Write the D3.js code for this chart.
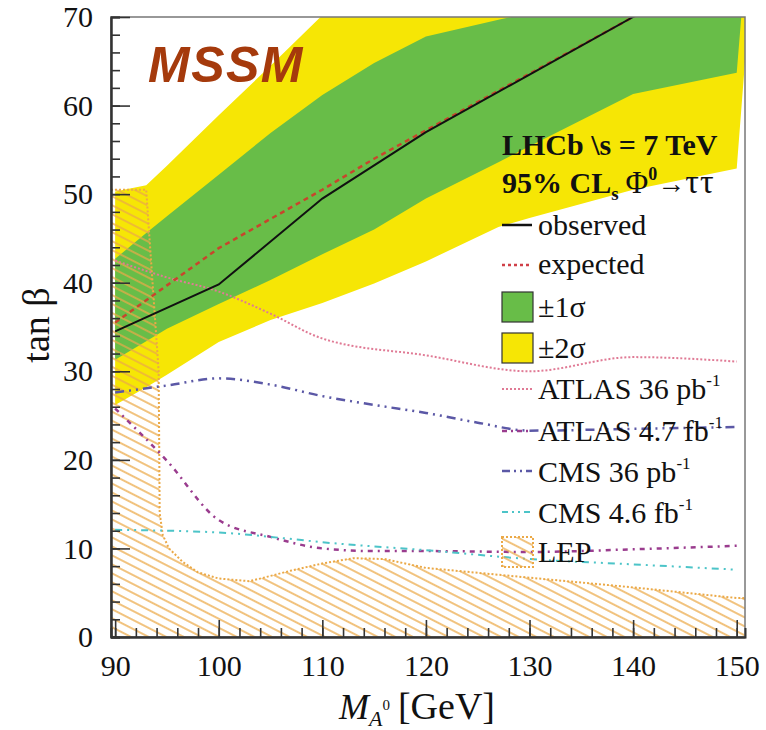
<!DOCTYPE html>
<html>
<head>
<meta charset="utf-8">
<script src="https://cdn.jsdelivr.net/npm/d3@7"></script>
<style>
body{margin:0;background:#fff;}
text{font-family:"Liberation Serif","Times New Roman",serif;fill:#111;}
</style>
</head>
<body>
<div id="chart"></div>
<script>
// expected limit bands
var bandMass    = [90, 93, 95, 100, 105, 110, 115, 120, 127, 130, 140, 150, 151];
var plus2Sigma  = [50.3, 51.0, 53.2, 58.9, 64.5, 70.2, 74.0, 78.0, 83.0, 85.0, 90.0, 95.0, 95.0];
var plus1Sigma  = [42.7, 45.6, 47.5, 52.2, 56.9, 61.2, 64.8, 67.8, 69.7, 70.4, 73.0, 75.0, 80.0];
var minus1Sigma = [31.3, 33.4, 34.8, 37.6, 40.3, 43.2, 46.0, 49.5, 53.6, 55.4, 61.3, 63.7, 78.0];
var minus2Sigma = [26.2, 28.2, 29.6, 33.3, 35.8, 37.7, 39.9, 42.4, 46.3, 47.3, 50.5, 52.9, 68.0];

// LHCb limits
var obsMass  = [90, 100, 110, 120, 130, 140, 150];
var observed = [34.5, 39.8, 49.5, 57.0, 63.5, 70.0, 76.5];
var expMass  = [90, 95, 100, 105, 110, 115, 120, 130, 140, 150];
var expected = [35.5, 39.7, 43.9, 47.2, 50.5, 54.0, 57.2, 63.6, 70.0, 76.5];

// other experiments
var atlas36Mass = [90, 95, 100, 105, 110, 120, 130, 140, 150];
var atlas36     = [42.5, 40.6, 39.0, 36.5, 33.7, 31.8, 30.0, 31.6, 31.1];
var atlas47Mass = [90, 95, 100, 105, 110, 115, 120, 130, 140, 150];
var atlas47     = [25.8, 19.9, 13.2, 11.3, 10.0, 9.7, 9.7, 9.6, 9.9, 10.3];
var cms36Mass   = [90, 95, 100, 105, 110, 115, 120, 125, 130, 140, 150];
var cms36       = [27.6, 28.4, 29.2, 28.5, 27.2, 26.2, 25.3, 24.2, 23.3, 23.5, 23.7];
var cms46Mass   = [90, 100, 105, 110, 120, 130, 140, 150];
var cms46       = [12.1, 11.8, 11.3, 10.7, 9.8, 8.8, 8.2, 7.6];
var lepMass = [89.6, 93.0, 93.2, 94.2, 94.3, 94.6, 95.2, 96.5, 98, 100, 103, 107, 110, 113, 116, 120, 130, 140, 150, 151];
var lepTanb = [50.5, 50.5, 47.0, 30.0, 14.0, 11.5, 10.0, 8.5, 7.3, 6.6, 6.3, 7.5, 8.3, 8.9, 8.8, 7.8, 6.7, 5.6, 4.4, 4.4];

var xTicks = [90, 100, 110, 120, 130, 140, 150];
var yTicks = [0, 10, 20, 30, 40, 50, 60, 70];

var w = 766, h = 730;

var svg = d3.select("#chart").append("svg")
    .attr("width", w)
    .attr("height", h);

var x = d3.scaleLinear().domain([89.6, 150.8]).range([111, 745]);
var y = d3.scaleLinear().domain([0, 70]).range([637, 17]);

var defs = svg.append("defs");
defs.append("clipPath").attr("id", "plotClip")
    .append("rect")
    .attr("x", 111).attr("y", 17)
    .attr("width", 634).attr("height", 620);

var hatch = defs.append("pattern")
    .attr("id", "lepHatch")
    .attr("patternUnits", "userSpaceOnUse")
    .attr("width", 8).attr("height", 8)
    .attr("patternTransform", "rotate(27)");
hatch.append("line")
    .attr("x1", 0).attr("y1", 4).attr("x2", 8).attr("y2", 4)
    .attr("stroke", "#eba947")
    .attr("stroke-width", 1.4);

var plot = svg.append("g").attr("clip-path", "url(#plotClip)");

function band(lo, hi){
    return d3.area()
        .x(function(d, i){ return x(bandMass[i]); })
        .y0(function(d, i){ return y(lo[i]); })
        .y1(function(d, i){ return y(hi[i]); })(bandMass);
}

plot.append("path").attr("d", band(minus2Sigma, plus2Sigma)).attr("fill", "#f6e605");
plot.append("path").attr("d", band(minus1Sigma, plus1Sigma)).attr("fill", "#68bd48");

// LEP excluded region
var lepArea = d3.area()
    .x(function(d, i){ return x(lepMass[i]); })
    .y0(y(0))
    .y1(function(d, i){ return y(lepTanb[i]); });
plot.append("path").attr("d", lepArea(lepMass)).attr("fill", "url(#lepHatch)");
var lepEdge = d3.line()
    .x(function(d, i){ return x(lepMass[i]); })
    .y(function(d, i){ return y(lepTanb[i]); });
plot.append("path").attr("d", lepEdge(lepMass))
    .attr("fill", "none")
    .attr("stroke", "#eba947")
    .attr("stroke-width", 2)
    .attr("stroke-dasharray", "2,2");

function curve(mass, vals, color, dash, width, smooth){
    var line = d3.line()
        .x(function(d, i){ return x(mass[i]); })
        .y(function(d, i){ return y(vals[i]); });
    if(smooth) line.curve(d3.curveMonotoneX);
    plot.append("path")
        .attr("d", line(mass))
        .attr("fill", "none")
        .attr("stroke", color)
        .attr("stroke-width", width)
        .attr("stroke-dasharray", dash);
}

curve(atlas36Mass, atlas36, "#e07a95", "2,2", 2, true);
curve(atlas47Mass, atlas47, "#9a3c8e", "5,5,2,5", 2.5, true);
curve(cms36Mass, cms36, "#5b58a6", "9,5,2,5,2,5", 2.5, true);
curve(cms46Mass, cms46, "#4cc4c8", "7,5,2,5,2,5", 2, true);
curve(expMass, expected, "#c8452c", "5,4", 2.5, false);
curve(obsMass, observed, "#111", null, 2, false);

// frame
svg.append("rect")
    .attr("x", 111).attr("y", 17)
    .attr("width", 634).attr("height", 620)
    .attr("fill", "none")
    .attr("stroke", "#777")
    .attr("stroke-width", 1.5);

// axes, ticks pointing inwards
svg.append("g").attr("transform", "translate(111,0)")
    .call(d3.axisLeft(y).tickValues(d3.range(0, 71, 2)).tickSize(-9).tickFormat(""));
svg.append("g").attr("transform", "translate(111,0)")
    .call(d3.axisLeft(y).tickValues(yTicks).tickSize(-19).tickSizeOuter(0).tickPadding(18));
svg.append("g").attr("transform", "translate(0,637)")
    .call(d3.axisBottom(x).tickValues(d3.range(90, 151, 2)).tickSize(-9).tickFormat(""));
svg.append("g").attr("transform", "translate(0,637)")
    .call(d3.axisBottom(x).tickValues(xTicks).tickSize(-17).tickSizeOuter(0).tickPadding(18));

svg.selectAll(".domain").attr("stroke", "#333").attr("stroke-width", 2);
svg.selectAll(".tick line").attr("stroke", "#333").attr("stroke-width", 1.6);
svg.selectAll(".tick text")
    .attr("fill", "#111")
    .style("font-family", "'Liberation Serif', serif")
    .style("font-size", "30px");

// axis titles
svg.append("text")
    .attr("transform", "translate(49,325) rotate(-90)")
    .attr("text-anchor", "middle")
    .style("font-size", "38px")
    .text("tan β");

var xt = svg.append("text")
    .attr("x", 339).attr("y", 719)
    .style("font-size", "36px");
xt.append("tspan").style("font-style", "italic").text("M");
xt.append("tspan").style("font-style", "italic").style("font-size", "22px").attr("dy", 7).text("A");
xt.append("tspan").style("font-size", "15px").attr("dy", -16).text("0");
xt.append("tspan").attr("dy", 9).attr("dx", 8).style("font-size", "38px").text("[GeV]");

// MSSM label
svg.append("text")
    .attr("x", 148).attr("y", 82)
    .style("font-family", "'Liberation Sans', Arial, sans-serif")
    .style("font-weight", "bold")
    .style("font-style", "italic")
    .style("font-size", "50px")
    .style("letter-spacing", "1.5px")
    .style("fill", "#a53a0c")
    .text("MSSM");

// legend
var lx1 = 502, lx2 = 532, tx = 538;

svg.append("text").attr("x", lx1).attr("y", 155)
    .style("font-size", "30px").style("font-weight", "bold")
    .text("LHCb \\s = 7 TeV");

var hd = svg.append("text").attr("x", lx1).attr("y", 193).style("font-size", "30px");
hd.append("tspan").style("font-weight", "bold").text("95% CL");
hd.append("tspan").style("font-weight", "bold").style("font-size", "19px").attr("dy", 7).text("s");
hd.append("tspan").attr("dy", -7).attr("dx", 7).style("font-size", "31px").text("Φ");
hd.append("tspan").style("font-weight", "bold").style("font-size", "18px").attr("dy", -13).text("0");
hd.append("tspan").attr("dy", 13).style("font-size", "28px").text("→");
hd.append("tspan").style("font-size", "34px").style("letter-spacing", "1px").text("ττ");

function legendLine(yy, color, dash, width){
    svg.append("line")
        .attr("x1", lx1).attr("x2", lx2)
        .attr("y1", yy).attr("y2", yy)
        .attr("stroke", color)
        .attr("stroke-width", width)
        .attr("stroke-dasharray", dash);
}
function legendBox(yy, fill, dotted){
    svg.append("rect")
        .attr("x", lx1).attr("y", yy)
        .attr("width", 31).attr("height", 30)
        .attr("fill", fill)
        .attr("stroke", dotted ? "#eba947" : "#333")
        .attr("stroke-width", dotted ? 2 : 1.2)
        .attr("stroke-dasharray", dotted ? "2,2" : null);
}
function legendText(yy, label, sup){
    var t = svg.append("text").attr("x", tx).attr("y", yy).style("font-size", "30px").text(label);
    if(sup){
        t.append("tspan").style("font-size", "17px").attr("dy", -13).text(sup);
    }
}

legendLine(225, "#111", null, 2.5);
legendText(235, "observed");
legendLine(265, "#d04048", "3,3", 2.5);
legendText(274, "expected");
legendBox(292, "#68bd48");
legendText(317, "±1σ");
legendBox(333, "#f6e605");
legendText(358, "±2σ");
legendLine(389, "#e07a95", "2,2", 2);
legendText(399, "ATLAS 36 pb", "-1");
legendLine(431, "#9a3c8e", "5,4,2,4", 2.5);
legendText(441, "ATLAS 4.7 fb", "-1");
legendLine(471, "#5b58a6", "8,4,2,4,2,4", 2.5);
legendText(482, "CMS 36 pb", "-1");
legendLine(512, "#4cc4c8", "6,4,2,4,2,4", 2);
legendText(523, "CMS 4.6 fb", "-1");
legendBox(537, "url(#lepHatch)", true);
legendText(562, "LEP");
</script>
</body>
</html>
